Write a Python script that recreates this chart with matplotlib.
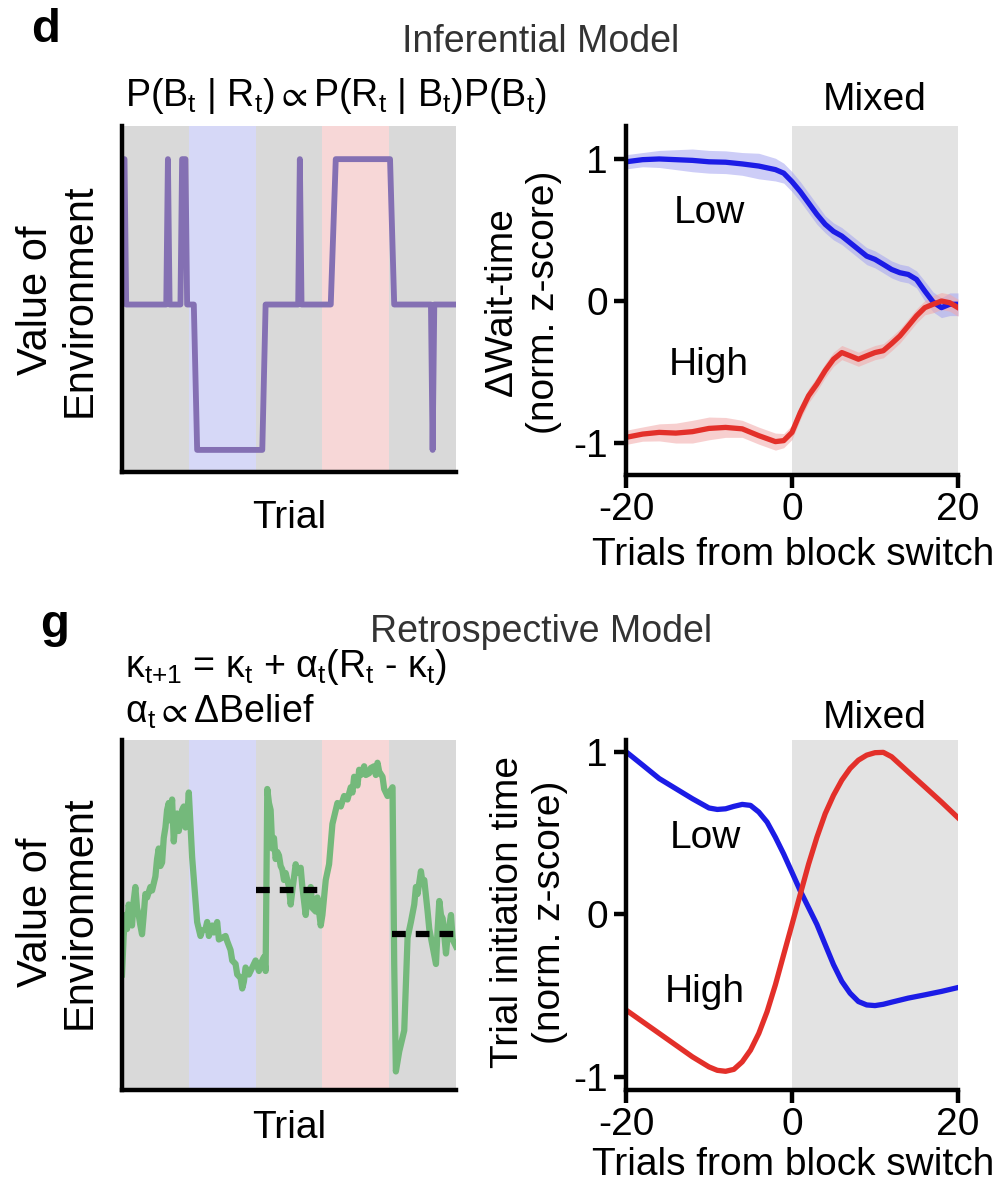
import numpy as np
import matplotlib
matplotlib.use('Agg')
import matplotlib.pyplot as plt

plt.rcParams['font.family'] = ['Liberation Sans', 'DejaVu Sans']
plt.rcParams['mathtext.fontset'] = 'custom'
plt.rcParams['mathtext.rm'] = 'Liberation Sans'
plt.rcParams['mathtext.it'] = 'Liberation Sans'
plt.rcParams['mathtext.sf'] = 'Liberation Sans'
plt.rcParams['mathtext.default'] = 'regular'
plt.rcParams['mathtext.fallback'] = 'stixsans'
plt.rcParams['axes.unicode_minus'] = False

# ---- data ----
# block shading of the example sessions (trial 0..200, 5 blocks)
block_edges = [0, 40, 80, 120, 160, 200]
block_colors = ['#d9d9d9', '#d6d8f7', '#d9d9d9', '#f7d7d7', '#d9d9d9']

# inferential model: value of environment (-1 low, 0 mixed, 1 high)
inf_trial = [0, 1.5, 2.5, 26.5, 27.5, 28.5, 35, 36, 38, 39, 43, 45, 84, 86,
             105.5, 106.5, 107.5, 125, 128, 160.5, 163, 185, 186, 187, 200]
inf_value = [1, 1, 0, 0, 1, 0, 0, 1, 1, 0, 0, -1, -1, 0,
             0, 1, 0, 0, 1, 1, 0, 0, -1, 0, 0]

# retrospective model: value of environment (normalised)
ret_trial = [0, 1, 2, 3, 4, 5, 6, 7, 8, 9, 10, 11, 12, 13, 14, 15, 17, 18, 20,
             21, 22, 23, 24, 25, 26, 27, 28, 29, 30, 31, 32, 33, 34, 35, 36,
             37, 38, 39, 40, 42, 45, 47, 48, 50, 51, 52, 54, 55, 57, 58, 60,
             62, 63, 65, 66, 68, 69, 71, 72, 73, 74, 76, 77, 79, 80, 82, 83,
             85, 86, 87, 88, 89, 90, 91, 92, 93, 94, 95, 96, 97, 98, 100, 101,
             102, 104, 105, 107, 108, 110, 111, 113, 114, 116, 117, 119, 120,
             121, 122, 124, 126, 128, 129, 131, 133, 135, 137, 138, 139, 141,
             142, 143, 145, 146, 148, 149, 151, 152, 153, 154, 156, 157, 159,
             160, 162, 163, 164, 166, 169, 171, 173, 175, 176, 177, 179, 180,
             181, 183, 184, 186, 188, 189, 190, 191, 192, 194, 195, 197, 198,
             200]
ret_value = [0.33, 0.44, 0.50, 0.46, 0.53, 0.50, 0.47, 0.54, 0.58, 0.52, 0.50,
             0.47, 0.445, 0.50, 0.56, 0.55, 0.58, 0.57, 0.61, 0.66, 0.69,
             0.64, 0.65, 0.72, 0.75, 0.80, 0.82, 0.77, 0.83, 0.71, 0.77, 0.79,
             0.74, 0.77, 0.80, 0.81, 0.75, 0.78, 0.85, 0.665, 0.48, 0.44,
             0.455, 0.46, 0.48, 0.44, 0.47, 0.45, 0.48, 0.43, 0.435, 0.44,
             0.425, 0.40, 0.37, 0.36, 0.33, 0.32, 0.29, 0.31, 0.35, 0.33,
             0.34, 0.36, 0.37, 0.34, 0.36, 0.38, 0.34, 0.86, 0.82, 0.80, 0.69,
             0.72, 0.66, 0.68, 0.67, 0.64, 0.63, 0.60, 0.62, 0.58, 0.53, 0.57,
             0.645, 0.62, 0.635, 0.58, 0.50, 0.55, 0.58, 0.52, 0.51, 0.55,
             0.47, 0.50, 0.55, 0.60, 0.645, 0.76, 0.80, 0.82, 0.81, 0.84,
             0.83, 0.865, 0.85, 0.895, 0.87, 0.915, 0.90, 0.925, 0.90, 0.905,
             0.92, 0.925, 0.90, 0.935, 0.91, 0.895, 0.86, 0.84, 0.85, 0.865,
             0.36, 0.053, 0.11, 0.17, 0.435, 0.48, 0.53, 0.58, 0.56, 0.625,
             0.59, 0.60, 0.51, 0.46, 0.41, 0.36, 0.46, 0.54, 0.50, 0.49, 0.39,
             0.44, 0.50, 0.43, 0.41]
ret_ref_levels = [0.572, 0.447]
ret_ref_spans = [(80, 120), (161.5, 200)]

# wait-time around block switch
wt_x = [-20, -18, -16, -14, -12, -10, -8, -6, -4, -2, -1, 0, 1, 2, 3, 4, 5,
        6, 7, 8, 9, 10, 11, 12, 13, 14, 15, 16, 17, 18, 19, 20]
wt_low = [0.98, 0.995, 1.0, 0.995, 0.99, 0.98, 0.977, 0.965, 0.95, 0.925,
          0.90, 0.84, 0.77, 0.69, 0.61, 0.54, 0.49, 0.457, 0.41, 0.363, 0.316,
          0.293, 0.258, 0.222, 0.199, 0.187, 0.152, 0.07, -0.007, -0.047,
          -0.023, -0.023]
wt_low_sem = [0.05, 0.05, 0.06, 0.07, 0.08, 0.08, 0.08, 0.08, 0.09, 0.08,
              0.07, 0.07, 0.07, 0.07, 0.07, 0.06, 0.06, 0.06, 0.06, 0.06,
              0.06, 0.06, 0.06, 0.06, 0.06, 0.06, 0.06, 0.07, 0.07, 0.07,
              0.08, 0.08]
wt_high = [-0.96, -0.937, -0.925, -0.93, -0.92, -0.897, -0.89, -0.90, -0.948,
           -0.99, -0.983, -0.925, -0.785, -0.667, -0.585, -0.49, -0.41,
           -0.363, -0.386, -0.41, -0.386, -0.363, -0.35, -0.30, -0.246,
           -0.176, -0.105, -0.047, -0.023, 0.0, -0.012, -0.047]
wt_high_sem = [0.05, 0.05, 0.06, 0.07, 0.08, 0.08, 0.07, 0.06, 0.06, 0.06,
               0.05, 0.05, 0.05, 0.05, 0.05, 0.05, 0.05, 0.05, 0.05, 0.05,
               0.05, 0.05, 0.05, 0.05, 0.05, 0.05, 0.05, 0.05, 0.06, 0.06,
               0.06, 0.06]

# trial initiation time around block switch
ti_x = [-20, -18, -16, -14, -12, -10, -9, -8, -7, -6, -5, -4, -3, -2, -1, 0,
        1, 2, 3, 4, 5, 6, 7, 8, 9, 10, 11, 12, 14, 16, 18, 20]
ti_low = [1.0, 0.918, 0.835, 0.773, 0.711, 0.654, 0.645, 0.649, 0.664, 0.676,
          0.67, 0.629, 0.567, 0.474, 0.371, 0.258, 0.144, 0.041, -0.062,
          -0.186, -0.309, -0.412, -0.485, -0.536, -0.557, -0.561, -0.553,
          -0.54, -0.515, -0.495, -0.474, -0.45]
ti_high = [-0.588, -0.66, -0.732, -0.804, -0.876, -0.938, -0.959, -0.965,
           -0.953, -0.907, -0.835, -0.732, -0.598, -0.433, -0.247, -0.062,
           0.124, 0.309, 0.474, 0.619, 0.732, 0.825, 0.897, 0.948, 0.979,
           0.994, 0.996, 0.969, 0.876, 0.784, 0.691, 0.594]

BLUE = '#1c1ce6'
RED = '#e3302a'
FS = 28

fig = plt.figure(figsize=(10, 12), dpi=100)


def px(x, y):
    return x / 1000, 1 - y / 1200


def box(l, t, r, b):
    return [l / 1000, 1 - b / 1200, (r - l) / 1000, (b - t) / 1200]


def style_axes(ax):
    for s in ['top', 'right']:
        ax.spines[s].set_visible(False)
    for s in ['left', 'bottom']:
        ax.spines[s].set_linewidth(3.2)
        ax.spines[s].set_color('black')


def trace_axes(rect):
    ax = fig.add_axes(rect)
    style_axes(ax)
    ax.set_xlim(block_edges[0], block_edges[-1])
    for i, c in enumerate(block_colors):
        ax.axvspan(block_edges[i], block_edges[i + 1], color=c, lw=0, zorder=0)
    ax.set_xticks([])
    ax.set_yticks([])
    return ax


def switch_axes(rect, ylim):
    ax = fig.add_axes(rect)
    style_axes(ax)
    ax.set_xlim(-20, 20)
    ax.set_ylim(*ylim)
    ax.axvspan(0, 20, color='#e3e3e3', lw=0, zorder=0)
    ax.set_xticks([-20, 0, 20])
    ax.set_yticks([-1, 0, 1])
    ax.tick_params(length=9, width=3.2, labelsize=FS, direction='out')
    ax.tick_params(axis='x', pad=3)
    ax.tick_params(axis='y', pad=4)
    return ax


# ---- panel d: inferential model ----
ax1 = trace_axes(box(122, 126, 456, 472))
ax1.set_ylim(-1.152, 1.228)
ax1.plot(inf_trial, inf_value, color='#8470b3', lw=4.2, solid_joinstyle='round')

ax2 = switch_axes(box(626, 126, 958, 475), (-1.225, 1.232))
lo = np.array(wt_low)
hi = np.array(wt_high)
ax2.fill_between(wt_x, lo - np.array(wt_low_sem), lo + np.array(wt_low_sem),
                 color='#a4a4f2', alpha=0.55, lw=0)
ax2.fill_between(wt_x, hi - np.array(wt_high_sem), hi + np.array(wt_high_sem),
                 color='#f2a8a8', alpha=0.55, lw=0)
ax2.plot(wt_x, wt_low, color=BLUE, lw=3.8)
ax2.plot(wt_x, wt_high, color=RED, lw=3.8)

# ---- panel g: retrospective model ----
ax3 = trace_axes(box(122, 740, 456, 1090))
ax3.set_ylim(0, 1)
ax3.plot(ret_trial, ret_value, color='#74b97b', lw=4.5)
for lvl, (a, b) in zip(ret_ref_levels, ret_ref_spans):
    ax3.plot([a, b], [lvl, lvl], color='black', lw=4.5, ls=(0, (2.2, 1.6)))

ax4 = switch_axes(box(626, 740, 958, 1090), (-1.08, 1.072))
ax4.plot(ti_x, ti_low, color=BLUE, lw=3.8)
ax4.plot(ti_x, ti_high, color=RED, lw=3.8)

# ---- text ----
fig.text(*px(46, 30), 'd', fontsize=34, fontweight='bold', ha='center', va='center')
fig.text(*px(55, 625), 'g', fontsize=34, fontweight='bold', ha='center', va='center')
fig.text(*px(541, 42), 'Inferential Model', fontsize=27, color='#333333',
         ha='center', va='center')
fig.text(*px(541, 632), 'Retrospective Model', fontsize=27, color='#333333',
         ha='center', va='center')
fig.text(*px(125, 96), r'P(B$_t$ | R$_t$)$\propto$P(R$_t$ | B$_t$)P(B$_t$)',
         fontsize=27, ha='left', va='center')
fig.text(*px(125, 667), r'κ$_{t{+}1}$ = κ$_t$ + α$_t$(R$_t$ - κ$_t$)',
         fontsize=27, ha='left', va='center')
fig.text(*px(125, 712), r'α$_t$$\propto$ΔBelief', fontsize=27, ha='left',
         va='center')

for yc in (300, 912):
    fig.text(*px(58, yc), 'Value of\nEnvironment', fontsize=30, rotation=90,
             ha='center', va='center', linespacing=1.1)
fig.text(*px(289, 518), 'Trial', fontsize=FS, ha='center', va='center')
fig.text(*px(289, 1128), 'Trial', fontsize=FS, ha='center', va='center')
fig.text(*px(523, 302), 'ΔWait-time\n(norm. z-score)', fontsize=FS, rotation=90,
         ha='center', va='center', linespacing=1.25)
fig.text(*px(529, 912), 'Trial initiation time\n(norm. z-score)', fontsize=FS,
         rotation=90, ha='center', va='center', linespacing=1.25)
fig.text(*px(793, 555), 'Trials from block switch', fontsize=FS,
         ha='center', va='center')
fig.text(*px(793, 1165), 'Trials from block switch', fontsize=FS,
         ha='center', va='center')

fig.text(*px(875, 100), 'Mixed', fontsize=FS, ha='center', va='center')
fig.text(*px(875, 718), 'Mixed', fontsize=FS, ha='center', va='center')
fig.text(*px(709, 213), 'Low', fontsize=FS, ha='center', va='center')
fig.text(*px(709, 365), 'High', fontsize=FS, ha='center', va='center')
fig.text(*px(705, 838), 'Low', fontsize=FS, ha='center', va='center')
fig.text(*px(705, 992), 'High', fontsize=FS, ha='center', va='center')

fig.savefig('out.png', dpi=100)
